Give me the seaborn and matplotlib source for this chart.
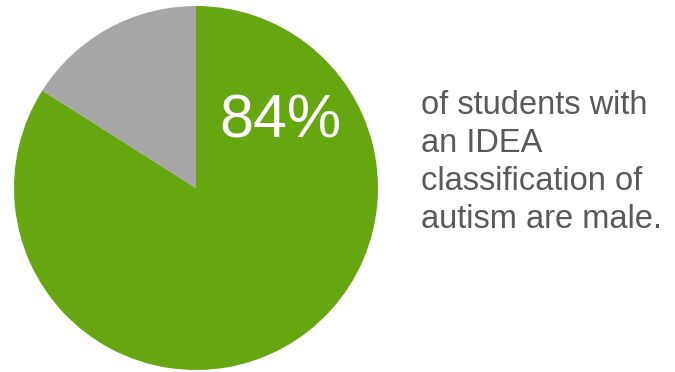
import matplotlib
matplotlib.use("Agg")
import matplotlib.pyplot as plt
import seaborn as sns

sns.set_theme(style="white")
plt.rcParams["font.family"] = ["Liberation Sans", "DejaVu Sans"]

# Share of students with an IDEA autism classification, by sex
labels = ["Male", "Female"]
shares = [84, 16]
colors = ["#66A610", "#A6A6A6"]
caption_lines = ["of students with", "an IDEA", "classification of", "autism are male."]

W, H = 675, 372
fig = plt.figure(figsize=(W / 100, H / 100), dpi=100)
ax = fig.add_axes([0, 0, 1, 1])

cx, cy, r = 196, H - 188, 182
ax.pie(shares, colors=colors, startangle=90, counterclock=False,
       center=(cx, cy), radius=r, frame=True,
       wedgeprops=dict(linewidth=0))
ax.set_xlim(0, W)
ax.set_ylim(0, H)
ax.set_aspect("equal")
ax.set_axis_off()

ax.text(280, H - 137, f"{shares[0]}%", color="white", fontsize=44,
        ha="center", va="baseline")

ax.text(421, H - 90, "\n".join(caption_lines), color="#595959",
        fontsize=23.5, ha="left", va="top", linespacing=1.29)

fig.savefig("out.png", dpi=100)
